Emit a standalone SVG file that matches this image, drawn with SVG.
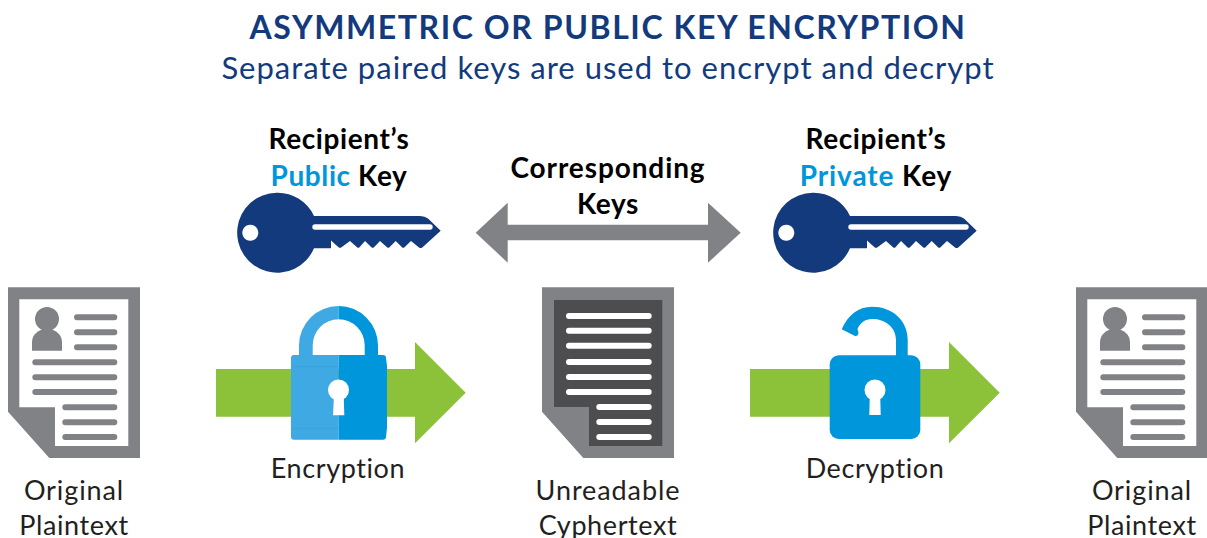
<svg xmlns="http://www.w3.org/2000/svg" width="1207" height="538" viewBox="0 0 1207 538">
<style>
text{font-family:"Lato","Open Sans","Liberation Sans",sans-serif;text-anchor:middle}
.title{font-size:32px;font-weight:700;fill:#133a7c;letter-spacing:1.57px}
.sub{font-size:31px;fill:#133a7c;letter-spacing:1px}
.kl{font-size:28px;font-weight:700;fill:#000;letter-spacing:.6px}
.klw{font-size:28px;font-weight:700;fill:#000;letter-spacing:.9px}
.bl{fill:#0096db}
.lbl{font-size:27px;fill:#231f20;letter-spacing:.6px}
.lbw{font-size:27px;fill:#231f20;letter-spacing:.9px}
.key{fill:#133a7c}
.g{fill:#808285}
.doc-line{stroke:#808285;stroke-width:6;stroke-linecap:round;fill:none}
.ci-line{stroke:#fff;stroke-width:6;stroke-linecap:round;fill:none}
.arrow{fill:#8cc13a}
</style>
<defs>
<path id="keyshape" fill-rule="evenodd" d="M276.7 192.7A40 40 0 0 1 314 216H420Q425 216 428 218.500L440.7 230.7L422 247.700Q420.500 248.500 419 247.500L411 241L404.500 247.200Q403.300 248.300 402 247.200L395.700 241L389.500 247.200Q388.300 248.300 387 247.200L380 241L374 247.200Q372.700 248.300 371.400 247.200L365 241L359.500 247.200Q358.300 248.300 357 247.200L350 241L341.500 247.200Q340 248.300 338.500 247.200L331 240.500V248.300H314A40 40 0 1 1 276.7 192.700ZM250.300 224.700a8 8 0 1 0 .01 0ZM315 224.300a2.700 2.700 0 0 0 0 5.400H430a2.700 2.700 0 0 0 0-5.400Z"/>
<g id="docshape">
<path class="g" fill-rule="evenodd" d="M8 287.3H140V458H49.3L8 411.7ZM19.3 299.3V407.3H55V446H128.3V299.3Z"/>
<circle class="g" cx="47" cy="319" r="12"/>
<path class="g" d="M32 350.7V342C32 335 38 329 47 329S62 335 62 342V350.7Z"/>
<path class="doc-line" d="M77 317.3H114.3M77 332.3H114.3M77 347.3H114.3M35.3 362.3H114.3M35.3 377.3H114.3M35.3 392H114.3M65.3 407.3H114.3M65.3 422.3H114.3M65.3 437H114.3"/>
</g>
</defs>
<rect width="1207" height="538" fill="#fff"/>
<g id="title">
<text class="title" x="608" y="39.3">ASYMMETRIC OR PUBLIC KEY ENCRYPTION</text>
<text class="sub" x="608" y="79">Separate paired keys are used to encrypt and decrypt</text>
</g>
<g id="connectors">
<path id="corresponding-arrow" fill="#808285" d="M475.7 232.7L507.7 202.7V224.7H708V202.7L740.7 232.7L708 262.7V240.3H507.7V262.7Z"/>
<path id="encrypt-arrow" class="arrow" d="M216 369H415V342L465.7 392.7L415 443.3V416.7H216Z"/>
<path id="decrypt-arrow" class="arrow" d="M750 369H949V342L999.7 392.7L949 443.3V416.7H750Z"/>
</g>
<g id="public-key">
<text class="kl" x="339" y="149">Recipient’s</text>
<text class="kl" x="339" y="186"><tspan class="bl">Public</tspan> Key</text>
<use href="#keyshape" class="key"/>
</g>
<g id="corresponding-keys">
<text class="klw" x="608" y="178">Corresponding</text>
<text class="kl" x="608" y="214">Keys</text>
</g>
<g id="private-key">
<text class="kl" x="876" y="149">Recipient’s</text>
<text class="klw" x="876" y="186"><tspan class="bl">Private</tspan> Key</text>
<use href="#keyshape" class="key" x="536"/>
</g>
<g id="original-plaintext-left">
<use href="#docshape"/>
<text class="lbw" x="74" y="500">Original</text>
<text class="lbl" x="74" y="535">Plaintext</text>
</g>
<g id="encryption">
<path fill="#3fa9e3" d="M299 355V345.5A39.5 39.5 0 0 1 338.7 306V319.3A26 26 0 0 0 312.7 345.5V355Z"/>
<path fill="#0096db" d="M378 355V345.5A39.5 39.5 0 0 0 338.7 306V319.3A26 26 0 0 1 364.7 345.5V355Z"/>
<path fill="#3fa9e3" d="M338.7 355H294a3 3 0 0 0-3 3V436.7a3 3 0 0 0 3 3H338.7Z"/>
<path fill="#0096db" d="M338.7 355H383a3 3 0 0 1 3 3L387 366V428L386 436.7a3 3 0 0 1-3 3H338.7Z"/>
<path stroke="#38a3de" stroke-width="1" fill="none" d="M291 366.5H338.7M291 428.5H338.7"/>
<circle cx="338.5" cy="390" r="10.5" fill="#fff"/>
<path fill="#fff" d="M334 395H343.7L344.3 415.3H333Z"/>
<text class="lbl" x="338" y="478">Encryption</text>
</g>
<g id="unreadable-cyphertext">
<path class="g" d="M542 287.3H674V458H583.3L542 411.7Z"/>
<path fill="#4d4d4f" d="M554 300H662.3V446H589V407H554Z"/>
<path class="ci-line" d="M569 316H648.7M569 330.7H648.7M569 345.7H648.7M569 362H648.7M569 377H648.7M569 392H648.7M599.3 407H648.7M599.3 422H648.7M599.3 437H648.7"/>
<text class="lbw" x="608" y="500">Unreadable</text>
<text class="lbl" x="608" y="535">Cyphertext</text>
</g>
<g id="decryption">
<path fill="#0096db" d="M907.7 358V340C907.7 320 892 306.7 872 306.7C858 306.7 848 315 841.7 329.3L855 336Q858 336.5 858.5 333L857.5 329C860 323 865 319 872 319C885 319 896 327 896 340V358Z"/>
<rect x="829.7" y="355.3" width="90.6" height="83.7" rx="9" fill="#0096db"/>
<circle cx="875" cy="390" r="10.5" fill="#fff"/>
<path fill="#fff" d="M869.8 395H880.2L880.7 415H869.3Z"/>
<text class="lbl" x="875" y="478">Decryption</text>
</g>
<g id="original-plaintext-right">
<use href="#docshape" x="1068"/>
<text class="lbw" x="1142" y="500">Original</text>
<text class="lbl" x="1142" y="535">Plaintext</text>
</g>
</svg>
